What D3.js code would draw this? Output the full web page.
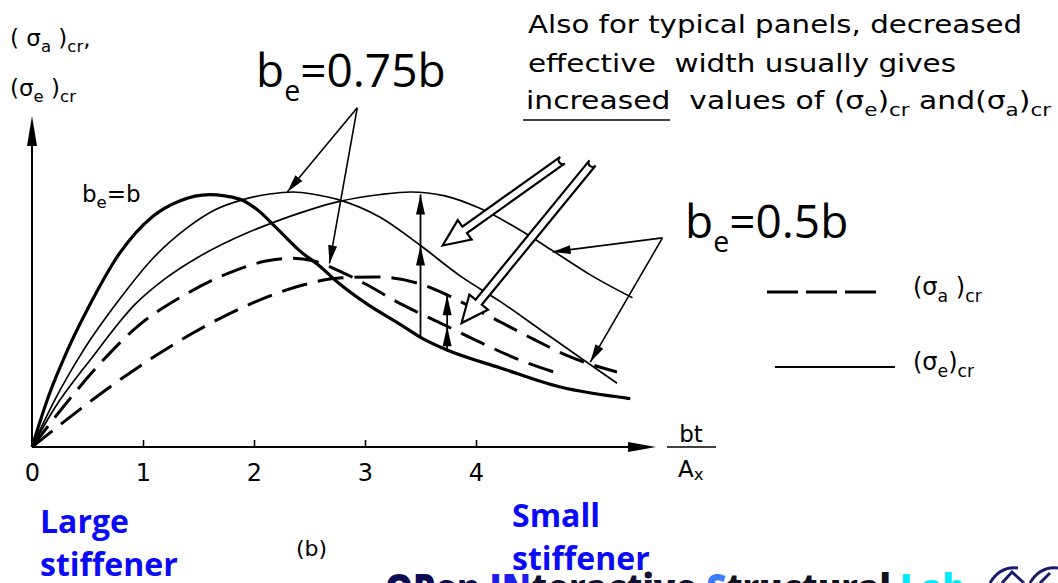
<!DOCTYPE html>
<html>
<head>
<meta charset="utf-8">
<script src="https://cdn.jsdelivr.net/npm/d3@7"></script>
<style>
  html, body { margin: 0; padding: 0; background: #fff; }
  svg { display: block; }
  text { white-space: pre; }
</style>
</head>
<body>
<svg id="chart" width="1058" height="583"></svg>
<script>
// ---- data: critical stress curves vs. bt/Ax (x) ----
const xTicks = [0, 1, 2, 3, 4];

// (σe)cr, b_e = b  (heavy solid)
const sigmaE_full = [[0,0],[0.15,0.2],[0.32,0.38],[0.5,0.54],[0.79,0.76],[1.09,0.905],[1.33,0.965],[1.6,0.99],
  [1.87,0.972],[2.03,0.93],[2.2,0.86],[2.41,0.77],[2.59,0.71],[2.77,0.64],[3.02,0.56],[3.32,0.48],[3.5,0.43],
  [3.74,0.38],[4.22,0.31],[4.76,0.235],[5.39,0.19]];

// (σe)cr, b_e = 0.75b  (thin solid)
const sigmaE_075 = [[0,0],[0.2,0.18],[0.45,0.37],[0.79,0.58],[1.09,0.74],[1.4,0.86],[1.65,0.93],[1.9,0.97],
  [2.14,0.992],[2.35,1.0],[2.55,0.99],[2.76,0.97],[3.14,0.9],[3.5,0.79],[3.86,0.67],[4.22,0.57],[4.58,0.46],
  [4.94,0.35],[5.27,0.25]];

// (σe)cr, b_e = 0.5b  (thin solid)
const sigmaE_05 = [[0,0],[0.2,0.15],[0.54,0.35],[0.93,0.56],[1.2,0.66],[1.5,0.745],[1.94,0.84],[2.17,0.88],
  [2.5,0.93],[2.76,0.962],[3.14,0.99],[3.41,1.0],[3.72,0.985],[4.04,0.935],[4.4,0.85],[4.69,0.77],[5.03,0.675],
  [5.41,0.585]];

// (σa)cr, upper dashed
const sigmaA_075 = [[0,0],[0.25,0.14],[0.64,0.34],[0.97,0.48],[1.33,0.585],[1.76,0.68],[2.12,0.73],[2.32,0.74],
  [2.53,0.73],[2.77,0.69],[3.0,0.64],[3.34,0.557],[3.68,0.486],[4.04,0.41],[4.4,0.34],[4.73,0.29]];

// (σa)cr, lower dashed
const sigmaA_05 = [[0,0],[0.25,0.086],[0.64,0.216],[1.04,0.337],[1.45,0.447],[1.99,0.565],[2.44,0.635],
  [2.77,0.663],[3.09,0.667],[3.47,0.643],[3.68,0.608],[3.95,0.55],[4.22,0.49],[4.53,0.42],[4.85,0.353],[5.27,0.294]];

// annotation leaders (data units)
const leader075 = { from: [2.93, 1.33], to: [[2.30, 1.0], [2.68, 0.72]] };
const leader05  = { from: [5.68, 0.82], to: [[4.69, 0.765], [5.03, 0.333]] };
const riseArrows = [
  { x: 3.5,  y0: 0.43,  heads: [0.79, 0.99] },
  { x: 3.74, y0: 0.375, heads: [0.473, 0.595] }
];
const hollowArrows = [
  { from: [4.78, 1.125], to: [3.70, 0.79] },
  { from: [5.05, 1.114], to: [3.87, 0.486] }
];

// ---- drawing ----
const svg = d3.select("#chart");
const x = d3.scaleLinear().domain([0, 5.5]).range([32, 642.5]);
const y = d3.scaleLinear().domain([0, 1.294]).range([447, 117]);

const techFont = "DejaVu Sans";
const uiFont = "Open Sans";

function rich(sel, parts, fs, subRatio = 0.62, shift = 0.3) {
  let cur = 0;
  parts.forEach(([t, k]) => {
    const target = k === "sub" ? fs * shift : 0;
    sel.append("tspan")
      .attr("dy", target - cur)
      .attr("font-size", k === "sub" ? fs * subRatio : fs)
      .text(t);
    cur = target;
  });
  return sel;
}

function head(g, tip, ux, uy, len = 17, hw = 4.2) {
  const nx = -uy, ny = ux;
  const bx = tip[0] - ux * len, by = tip[1] - uy * len;
  g.append("path")
    .attr("d", `M${tip[0]},${tip[1]}L${bx + nx * hw},${by + ny * hw}L${bx - nx * hw},${by - ny * hw}Z`)
    .attr("fill", "#000");
}

// axes
const axisG = svg.append("g");
axisG.append("line").attr("x1", x(0)).attr("y1", y(0)).attr("x2", 650).attr("y2", y(0))
  .attr("stroke", "#000").attr("stroke-width", 2.2);
head(axisG, [656, y(0)], 1, 0, 28, 5);
axisG.append("line").attr("x1", x(0)).attr("y1", y(0)).attr("x2", x(0)).attr("y2", 122)
  .attr("stroke", "#000").attr("stroke-width", 2);
head(axisG, [x(0), 116], 0, -1, 30, 5);

const xAxis = svg.append("g").attr("transform", `translate(0,${y(0)})`)
  .call(d3.axisBottom(x).tickValues(xTicks).tickSize(-7).tickPadding(17).tickFormat(d3.format("d")));
xAxis.select(".domain").remove();
xAxis.selectAll(".tick line").attr("stroke", "#000").attr("stroke-width", 1.6);
xAxis.selectAll(".tick text").attr("font-family", techFont).attr("font-size", 24).attr("fill", "#000");

// curves
const line = d3.line().x(d => x(d[0])).y(d => y(d[1])).curve(d3.curveMonotoneX);
const curves = [
  { data: sigmaE_full, w: 3.2, dash: null },
  { data: sigmaE_075, w: 1.7, dash: null },
  { data: sigmaE_05, w: 1.7, dash: null },
  { data: sigmaA_075, w: 3, dash: "26 11" },
  { data: sigmaA_05, w: 3, dash: "26 11" }
];
svg.append("g").selectAll("path").data(curves).join("path")
  .attr("d", d => line(d.data))
  .attr("fill", "none").attr("stroke", "#000")
  .attr("stroke-width", d => d.w)
  .attr("stroke-dasharray", d => d.dash)
  .attr("stroke-linecap", "butt");

// leader lines with filled heads
const ann = svg.append("g");
[leader075, leader05].forEach(L => {
  const p0 = [x(L.from[0]), y(L.from[1])];
  L.to.forEach(t => {
    const p1 = [x(t[0]), y(t[1])];
    const dx = p1[0] - p0[0], dy = p1[1] - p0[1], len = Math.hypot(dx, dy);
    ann.append("line").attr("x1", p0[0]).attr("y1", p0[1]).attr("x2", p1[0]).attr("y2", p1[1])
      .attr("stroke", "#000").attr("stroke-width", 1.6);
    head(ann, p1, dx / len, dy / len, 18, 4.5);
  });
});

// vertical "increase" arrows
riseArrows.forEach(r => {
  const top = d3.max(r.heads);
  ann.append("line").attr("x1", x(r.x)).attr("x2", x(r.x)).attr("y1", y(r.y0)).attr("y2", y(top))
    .attr("stroke", "#000").attr("stroke-width", 1.8);
  r.heads.forEach(h => head(ann, [x(r.x), y(h)], 0, -1, 20, 4.5));
});

// hollow arrows
hollowArrows.forEach(a => {
  const p0 = [x(a.from[0]), y(a.from[1])], p1 = [x(a.to[0]), y(a.to[1])];
  const dx = p1[0] - p0[0], dy = p1[1] - p0[1], L = Math.hypot(dx, dy);
  const ux = dx / L, uy = dy / L, nx = -uy, ny = ux;
  const hw = 4, hh = 12, hl = 27;
  const b = [p1[0] - ux * hl, p1[1] - uy * hl];
  const P = (p, s, k = 0) => `${p[0] + nx * s + ux * k},${p[1] + ny * s + uy * k}`;
  const d = `M${P(p0, hw)}L${P(b, hw)}L${P(b, hh)}L${p1[0]},${p1[1]}L${P(b, -hh)}L${P(b, -hw)}L${P(p0, -hw)}` +
            `A${hw},${hw} 0 0 1 ${P(p0, hw)}Z`;
  ann.append("path").attr("d", d).attr("fill", "#fff").attr("stroke", "#000").attr("stroke-width", 2.2)
    .attr("stroke-linejoin", "miter");
});

// ---- texts ----
const T = svg.append("g").attr("fill", "#000");
const SUB = 0.72, SH = 0.28;

// y-axis label
rich(T.append("text").attr("x", 10).attr("y", 46).attr("font-family", techFont),
  [["( σ", "n"], ["a", "sub"], [" )", "n"], ["cr", "sub"], [",", "n"]], 23, SUB, SH);
rich(T.append("text").attr("x", 10).attr("y", 96).attr("font-family", techFont),
  [["(σ", "n"], ["e", "sub"], [" )", "n"], ["cr", "sub"]], 23, SUB, SH);

// b_e = b
rich(T.append("text").attr("x", 82).attr("y", 202).attr("font-family", techFont),
  [["b", "n"], ["e", "sub"], ["=b", "n"]], 23, SUB, SH);

// large labels
rich(T.append("text").attr("x", 256).attr("y", 87).attr("font-family", uiFont),
  [["b", "n"], ["e", "sub"], ["=0.75b", "n"]], 46);
rich(T.append("text").attr("x", 685).attr("y", 238).attr("font-family", uiFont),
  [["b", "n"], ["e", "sub"], ["=0.5b", "n"]], 46);

// note at top right
T.append("text").attr("x", 528).attr("y", 33).attr("font-family", techFont).attr("font-size", 25)
  .attr("textLength", 494).attr("lengthAdjust", "spacingAndGlyphs").text("Also for typical panels, decreased");
T.append("text").attr("x", 528).attr("y", 72).attr("font-family", techFont).attr("font-size", 25)
  .attr("textLength", 428).attr("lengthAdjust", "spacingAndGlyphs").text("effective  width usually gives");
rich(T.append("text").attr("x", 526).attr("y", 109).attr("font-family", techFont)
  .attr("textLength", 525).attr("lengthAdjust", "spacingAndGlyphs"),
  [["increased  values of (σ", "n"], ["e", "sub"], [")", "n"], ["cr", "sub"], [" and(σ", "n"], ["a", "sub"], [")", "n"], ["cr", "sub"]], 25, SUB, SH);
T.append("line").attr("x1", 523).attr("x2", 670).attr("y1", 120).attr("y2", 120)
  .attr("stroke", "#000").attr("stroke-width", 1.6);

// legend
const lg = svg.append("g");
lg.append("line").attr("x1", 767).attr("x2", 882).attr("y1", 292).attr("y2", 292)
  .attr("stroke", "#000").attr("stroke-width", 3).attr("stroke-dasharray", "31 8");
lg.append("line").attr("x1", 775).attr("x2", 895).attr("y1", 367).attr("y2", 367)
  .attr("stroke", "#000").attr("stroke-width", 1.8);
rich(lg.append("text").attr("x", 913).attr("y", 295).attr("font-family", techFont),
  [["(σ", "n"], ["a", "sub"], [" )", "n"], ["cr", "sub"]], 24, SUB, SH);
rich(lg.append("text").attr("x", 913).attr("y", 370).attr("font-family", techFont),
  [["(σ", "n"], ["e", "sub"], [")", "n"], ["cr", "sub"]], 24, SUB, SH);

// x-axis quantity bt / Ax
T.append("text").attr("x", 691).attr("y", 442).attr("text-anchor", "middle")
  .attr("font-family", techFont).attr("font-size", 23).text("bt");
T.append("line").attr("x1", 667).attr("x2", 716).attr("y1", 447).attr("y2", 447)
  .attr("stroke", "#000").attr("stroke-width", 1.6);
rich(T.append("text").attr("x", 678).attr("y", 477).attr("font-family", techFont),
  [["A", "n"], ["x", "sub"]], 23, SUB, 0.15);

// panel tag
T.append("text").attr("x", 296).attr("y", 556).attr("font-family", techFont).attr("font-size", 22).text("(b)");

// stiffener notes
const blue = "#0a0af5";
[["Large", 40, 533], ["stiffener", 40, 576], ["Small", 512, 527], ["stiffener", 512, 570]].forEach(([t, tx, ty]) => {
  svg.append("text").attr("x", tx).attr("y", ty).attr("font-family", uiFont).attr("font-weight", 700)
    .attr("font-size", 32).attr("fill", blue).text(t);
});

// footer banner (cut by the bottom edge)
const banner = svg.append("text").attr("x", 385).attr("y", 603).attr("font-family", uiFont)
  .attr("font-weight", 800).attr("font-size", 40).attr("textLength", 580).attr("lengthAdjust", "spacingAndGlyphs");
[["OPen ", "#0c0c55"], ["IN", "#1e1ee8"], ["teractive ", "#111133"], ["S", "#3c7cff"], ["tructural ", "#111122"], ["Lab", "#00eaff"]]
  .forEach(([t, c]) => banner.append("tspan").attr("fill", c).text(t));

// emblem
const em = svg.append("g").attr("fill", "none").attr("stroke", "#1b1b6b").attr("stroke-width", 3);
em.append("path").attr("d", "M990,583 Q1000,566 1018,568");
em.append("path").attr("d", "M1002,583 L1012,572 L1024,583");
em.append("path").attr("d", "M1030,583 Q1040,566 1058,568");
em.append("path").attr("d", "M1040,583 L1050,573");
</script>
</body>
</html>
